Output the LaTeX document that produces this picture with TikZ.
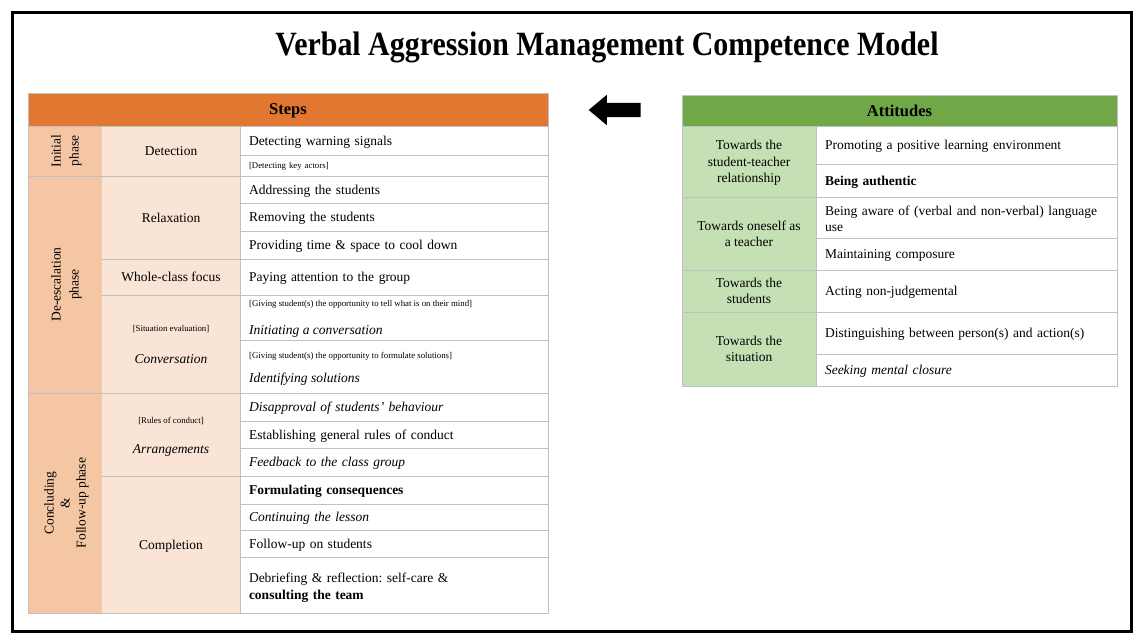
\documentclass[tikz,border=0pt]{standalone}
\usepackage{fontspec}
\usepackage{graphicx}
\setmainfont{Liberation Serif}
\usetikzlibrary{shapes.arrows}
\definecolor{stepsorange}{RGB}{226,119,49}
\definecolor{phasepeach}{RGB}{244,198,164}
\definecolor{steppeach}{RGB}{250,228,213}
\definecolor{attgreen}{RGB}{112,168,71}
\definecolor{attlight}{RGB}{197,224,180}
\definecolor{rulegray}{RGB}{192,192,192}
\frenchspacing

\begin{document}
\begin{tikzpicture}[
    x=1pt, y=-1pt,
    every node/.style={font=\fontsize{13.5}{16.5}\selectfont},
    rule/.style={draw=rulegray, line width=1pt},
    cell/.style={draw=rulegray, line width=1pt, inner sep=0pt, outer sep=0pt, text depth=-2pt},
    twolines/.style={text depth=14.5pt},
    head/.style={cell, text depth=-4pt, font=\fontsize{16.5}{19}\selectfont\bfseries},
    phasecell/.style={cell, draw=none, fill=phasepeach, rotate=90, align=center, font=\fontsize{13.5}{18}\selectfont},
    stepcell/.style={cell, draw=none, fill=steppeach, minimum width=138, align=center},
    itemcell/.style={cell, fill=white, minimum width=308, text width=290, inner xsep=9pt, align=left},
    attcell/.style={cell, draw=none, fill=attlight, minimum width=134, align=center},
    attitem/.style={cell, fill=white, minimum width=301, text width=283, inner xsep=9pt, align=left},
    notetext/.style={inner sep=0pt, font=\fontsize{8.8}{10}\selectfont},
    lbl/.style={inner sep=0pt, anchor=west}
]
    \useasboundingbox (0,0) rectangle (1143,643);
    \draw[line width=3pt] (12,12) rectangle (1131,631);

    \node (title) at (607,47) {\scalebox{0.88}[1]{\fontsize{34}{40}\selectfont\bfseries Verbal Aggression Management Competence Model}};

    % steps table
    \node[head, fill=stepsorange, minimum width=520, minimum height=33] (stepshead) at (288,109.5) {Steps};

    \node[phasecell, minimum width=50, minimum height=74] (initial) at (65,151) {Initial\\phase};
    \node[phasecell, minimum width=217, minimum height=74] (deesc) at (65,284.5) {De-escalation\\phase};
    \node[phasecell, minimum width=220, minimum height=74, font=\fontsize{13.5}{16}\selectfont] (concluding) at (65,503) {Concluding\\\&\\Follow-up phase};

    \node[stepcell, minimum height=50] (detection) at (171,151) {Detection};
    \node[stepcell, minimum height=83] (relaxation) at (171,217.5) {Relaxation};
    \node[stepcell, minimum height=36] (wholeclass) at (171,277) {Whole-class focus};
    \node[stepcell, minimum height=98] (conversation) at (171,344) {};
    \node[notetext] (evaluation) at (171,329) {[Situation evaluation]};
    \node[inner sep=0pt] (conversationlbl) at (171,359) {\itshape Conversation};
    \node[stepcell, minimum height=83] (arrangements) at (171,434.5) {};
    \node[notetext] (conduct) at (171,421) {[Rules of conduct]};
    \node[inner sep=0pt] (arrangementslbl) at (171,450) {\itshape Arrangements};
    \node[stepcell, minimum height=137] (completion) at (171,544.5) {Completion};

    \node[itemcell, minimum height=29] (warning) at (394,140.5) {Detecting warning signals};
    \node[itemcell, minimum height=21, font=\fontsize{8.8}{10}\selectfont] (actors) at (394,165.5) {[Detecting key actors]};
    \node[itemcell, minimum height=27] (addressing) at (394,189.5) {Addressing the students};
    \node[itemcell, minimum height=28] (removing) at (394,217) {Removing the students};
    \node[itemcell, minimum height=28] (cooldown) at (394,245) {Providing time \& space to cool down};
    \node[itemcell, minimum height=36] (group) at (394,277) {Paying attention to the group};
    \node[itemcell, minimum height=45] (initiating) at (394,317.5) {};
    \node[notetext, anchor=west] (mindnote) at (249,304) {[Giving student(s) the opportunity to tell what is on their mind]};
    \node[lbl] (initiatinglbl) at (249,331) {\itshape Initiating a conversation};
    \node[itemcell, minimum height=53] (solutions) at (394,366.5) {};
    \node[notetext, anchor=west] (solutionsnote) at (249,356) {[Giving student(s) the opportunity to formulate solutions]};
    \node[lbl] (solutionslbl) at (249,379) {\itshape Identifying solutions};
    \node[itemcell, minimum height=28] (disapproval) at (394,407) {\itshape Disapproval of students’ behaviour};
    \node[itemcell, minimum height=27] (rules) at (394,434.5) {Establishing general rules of conduct};
    \node[itemcell, minimum height=28] (feedback) at (394,462) {\itshape Feedback to the class group};
    \node[itemcell, minimum height=28] (consequences) at (394,490) {\bfseries Formulating consequences};
    \node[itemcell, minimum height=26] (lesson) at (394,517) {\itshape Continuing the lesson};
    \node[itemcell, minimum height=27] (followup) at (394,543.5) {Follow-up on students};
    \node[itemcell, twolines, minimum height=56] (debriefing) at (394,585) {Debriefing \& reflection: self-care \&\\\textbf{consulting the team}};

    % gray rules of the steps table
    \draw[rule] (stepshead.south west) rectangle (debriefing.south east);
    \foreach \y in {176,393}
        \draw[rule] (28,\y) -- (240,\y);
    \foreach \y in {259,295,476}
        \draw[rule] (102,\y) -- (240,\y);

    % attitudes table
    \node[head, fill=attgreen, minimum width=435, minimum height=31] (atthead) at (899.5,110.5) {Attitudes};

    \node[attcell, minimum height=71] (relationship) at (749,161.5) {Towards the\\student-teacher\\relationship};
    \node[attcell, minimum height=73] (oneself) at (749,233.5) {Towards oneself as\\a teacher};
    \node[attcell, minimum height=42] (students) at (749,291) {Towards the\\students};
    \node[attcell, minimum height=74] (situation) at (749,349) {Towards the\\situation};

    \node[attitem, minimum height=38] (positive) at (966.5,145) {Promoting a positive learning environment};
    \node[attitem, minimum height=33] (authentic) at (966.5,180.5) {\bfseries Being authentic};
    \node[attitem, twolines, minimum height=41] (aware) at (966.5,217.5) {Being aware of (verbal and non-verbal) language\\use};
    \node[attitem, minimum height=32] (composure) at (966.5,254) {Maintaining composure};
    \node[attitem, minimum height=42] (nonjudge) at (966.5,291) {Acting non-judgemental};
    \node[attitem, minimum height=42] (distinguish) at (966.5,333) {Distinguishing between person(s) and action(s)};
    \node[attitem, minimum height=32] (closure) at (966.5,370) {\itshape Seeking mental closure};

    % gray rules of the attitudes table
    \draw[rule] (atthead.south west) rectangle (closure.south east);
    \foreach \y in {197,270,312}
        \draw[rule] (682,\y) -- (816,\y);

    \node[single arrow, fill=black, inner xsep=0pt, inner ysep=7pt, minimum height=52, minimum width=30,
          single arrow head extend=8, single arrow tip angle=80, rotate=180] (influence) at (619,110) {};
\end{tikzpicture}
\end{document}
